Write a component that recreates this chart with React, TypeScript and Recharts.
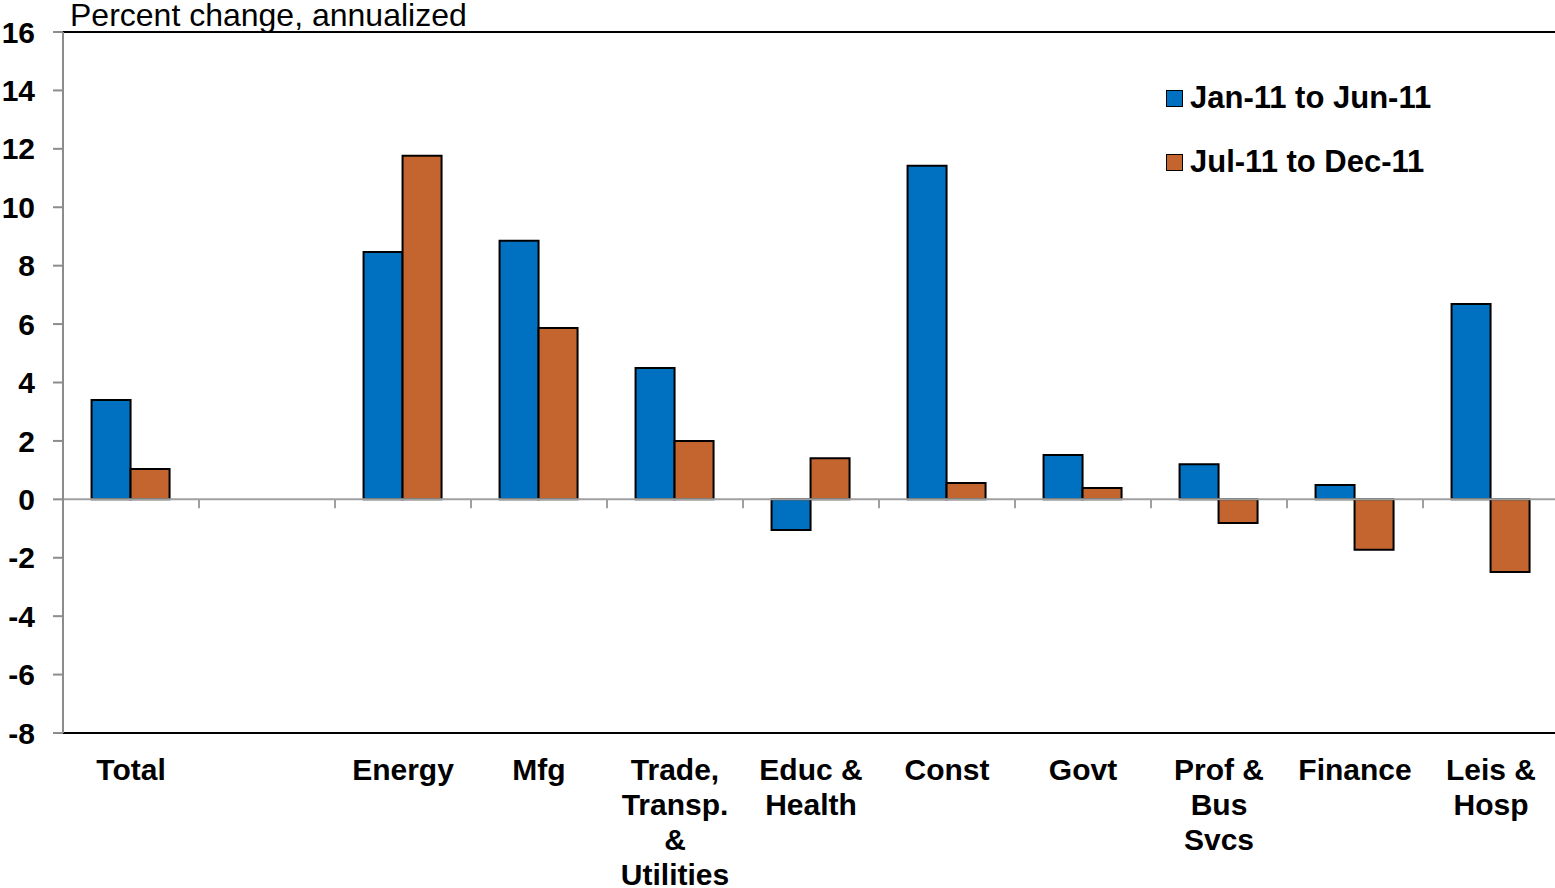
import { Bar, BarChart, Legend, ReferenceLine, XAxis, YAxis } from 'recharts';

const categories = [
  'Total',
  '',
  'Energy',
  'Mfg',
  'Trade,\nTransp.\n&\nUtilities',
  'Educ &\nHealth',
  'Const',
  'Govt',
  'Prof &\nBus\nSvcs',
  'Finance',
  'Leis &\nHosp',
];
const firstHalf = [3.4, null, 8.47, 8.85, 4.5, -1.05, 11.42, 1.52, 1.2, 0.49, 6.69];
const secondHalf = [1.04, null, 11.76, 5.87, 2.0, 1.41, 0.56, 0.39, -0.81, -1.73, -2.49];
const yTicks = [16, 14, 12, 10, 8, 6, 4, 2, 0, -2, -4, -6, -8];

const BLUE = '#0070C0';
const ORANGE = '#C4652F';
const FONT = '"Liberation Sans", Arial, sans-serif';

const data = categories.map((name, i) => ({ name, a: firstHalf[i], b: secondHalf[i] }));

function CategoryTick(props: any) {
  const { x, y, payload } = props;
  const lines = String(payload.value).split('\n');
  return (
    <text x={x} y={y} textAnchor="middle" fontFamily={FONT} fontSize={30} fontWeight="bold" fill="#000">
      {lines.map((l, i) => (
        <tspan key={i} x={x} dy={i === 0 ? 33 : 35}>
          {l}
        </tspan>
      ))}
    </text>
  );
}

// zero line with category boundary ticks hanging below it
function ZeroLine(props: any) {
  const { x1, x2, y1 } = props;
  const step = (x2 - x1) / categories.length;
  return (
    <g>
      <line x1={x1} x2={x2} y1={y1} y2={y1} stroke="#A0A0A0" strokeWidth={2} />
      {categories.map((_, i) => (
        <line key={i} x1={x1 + i * step} x2={x1 + i * step} y1={y1} y2={y1 + 9} stroke="#A0A0A0" strokeWidth={2} />
      ))}
    </g>
  );
}

function LegendBox(props: any) {
  const { payload } = props;
  return (
    <div style={{ fontFamily: FONT, fontSize: 31, fontWeight: 'bold' }}>
      {payload.map((p: any) => (
        <div key={p.value} style={{ display: 'flex', alignItems: 'center', height: 64 }}>
          <span
            style={{
              width: 15,
              height: 15,
              background: p.color,
              border: '1.5px solid #000',
              marginRight: 7,
            }}
          />
          {p.value}
        </div>
      ))}
    </div>
  );
}

export default function App() {
  return (
    <div style={{ position: 'relative', width: 1555, height: 888, overflow: 'hidden', background: '#fff' }}>
      <style>{'body{margin:0}'}</style>
      <div
        style={{
          position: 'absolute',
          left: 70,
          top: -3,
          fontFamily: FONT,
          fontSize: 32,
          lineHeight: '36px',
          color: '#000',
          zIndex: 1,
        }}
      >
        Percent change, annualized
      </div>
      <BarChart
        width={1560}
        height={888}
        data={data}
        margin={{ top: 32, right: 1, bottom: 0, left: 0 }}
        barCategoryGap="21%"
        barGap={0}
      >
        <XAxis
          dataKey="name"
          height={155}
          axisLine={false}
          tickLine={false}
          interval={0}
          tick={<CategoryTick />}
          tickMargin={0}
          tickSize={14}
        />
        <YAxis
          width={63}
          domain={[-8, 16]}
          ticks={yTicks}
          interval={0}
          allowDataOverflow
          axisLine={{ stroke: '#8C8C8C', strokeWidth: 2 }}
          tickLine={{ stroke: '#8C8C8C', strokeWidth: 2 }}
          tickSize={10}
          tickMargin={18}
          tick={{ fill: '#000', fontSize: 30, fontWeight: 'bold', fontFamily: FONT }}
        />
        <ReferenceLine y={16} stroke="#000" strokeWidth={2} />
        <ReferenceLine y={-8} stroke="#000" strokeWidth={2} />
        <Legend
          layout="vertical"
          verticalAlign="middle"
          align="center"
          content={<LegendBox />}
          wrapperStyle={{ top: 66, left: 1166, width: 360 }}
        />
        <Bar dataKey="a" name="Jan-11 to Jun-11" fill={BLUE} stroke="#000" strokeWidth={2} isAnimationActive={false} />
        <Bar dataKey="b" name="Jul-11 to Dec-11" fill={ORANGE} stroke="#000" strokeWidth={2} isAnimationActive={false} />
        <ReferenceLine y={0} shape={<ZeroLine />} />
      </BarChart>
    </div>
  );
}
